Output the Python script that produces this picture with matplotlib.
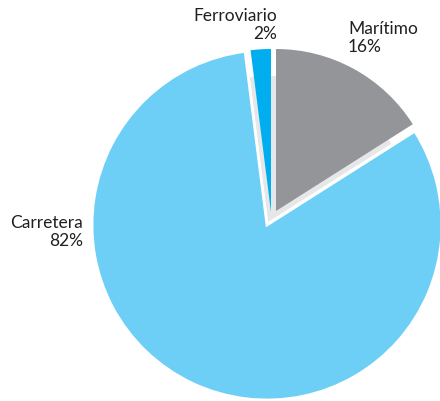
import matplotlib
matplotlib.use("Agg")
import matplotlib.pyplot as plt
from matplotlib.patches import Wedge

# Transport modal split (counterclockwise from 12 o'clock)
modes = ['Ferroviario', 'Carretera', 'Marítimo']
shares = [2, 82, 16]

colors = {'Ferroviario': '#00aeef', 'Carretera': '#6dcff6', 'Marítimo': '#939598'}
# apex and radius of each slice in pixel space (y up)
slice_geom = {
    'Ferroviario': ((271, 189), 163),
    'Carretera': ((267, 176), 175),
    'Marítimo': ((276, 190), 162),
}
label_pos = {
    'Ferroviario': (277, 25, 'right'),
    'Carretera': (83, 232, 'right'),
    'Marítimo': (348, 38, 'left'),
}

fig = plt.figure(figsize=(4.40, 4.01), dpi=100)
ax = fig.add_axes([0, 0, 1, 1])
ax.set_xlim(0, 440)
ax.set_ylim(0, 401)
ax.axis('off')

total = float(sum(shares))
start = 90.0
angles = {}
for mode, val in zip(modes, shares):
    sweep = 360.0 * val / total
    angles[mode] = (start, start + sweep)
    start += sweep

# side face showing under the lifted slices
t1 = angles['Marítimo'][0] - 360
t2 = angles['Ferroviario'][1]
ax.add_patch(Wedge((268, 179), 146, t1, t2, facecolor='#e6e7e8',
                   edgecolor='none', zorder=1))

for mode in modes:
    (cx, cy), r = slice_geom[mode]
    a1, a2 = angles[mode]
    if mode == 'Carretera':
        ax.add_patch(Wedge((cx, cy), r, a1, a2, facecolor=colors[mode],
                           edgecolor='white', linewidth=2.0, zorder=2))
    else:
        ax.add_patch(Wedge((cx, cy), r, a1, a2, facecolor=colors[mode],
                           edgecolor='none', zorder=3))

for mode, val in zip(modes, shares):
    x, y, ha = label_pos[mode]
    ax.text(x, 401 - y, f"{mode}\n{val}%", ha=ha, va='center',
            fontsize=12.5, family=['Lato', 'DejaVu Sans'], color='#231f20',
            linespacing=1.1)

fig.savefig('out.png', dpi=100)
